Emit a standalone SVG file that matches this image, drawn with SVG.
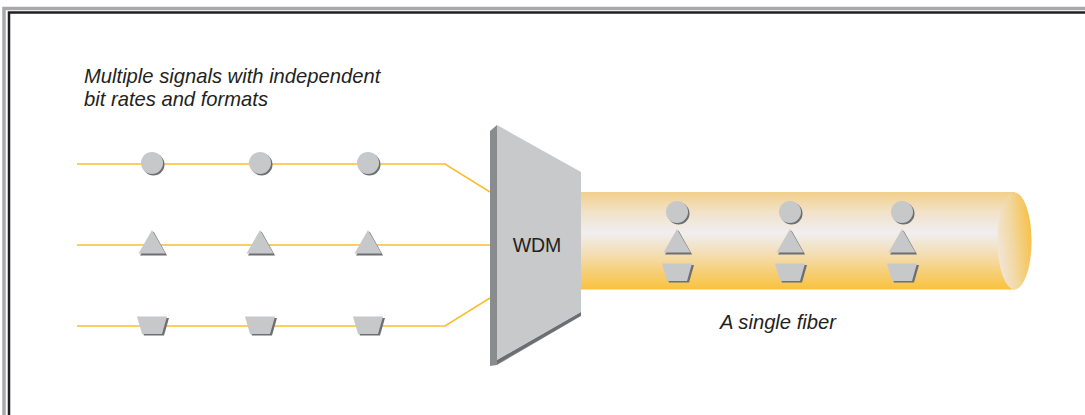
<svg xmlns="http://www.w3.org/2000/svg" width="1085" height="415" viewBox="0 0 1085 415">
<style>
.sig{fill:none;stroke:#F9BE2C;stroke-width:1.5}
.shape{fill:#C7C8CA}
.shd{fill:#6D6E71}
.lbl{font-family:"Liberation Sans",Arial,sans-serif;font-style:italic;font-size:20.2px;fill:#231F20}
</style>
<defs>
<linearGradient id="fib" x1="0" y1="0" x2="0" y2="1">
<stop offset="0" stop-color="#F2D08C"/>
<stop offset="0.22" stop-color="#F1E3CB"/>
<stop offset="0.42" stop-color="#F0EEF0"/>
<stop offset="0.62" stop-color="#F3DFB8"/>
<stop offset="1" stop-color="#F9C23D"/>
</linearGradient>
<linearGradient id="cap" x1="0" y1="0.6" x2="1" y2="0.3">
<stop offset="0" stop-color="#F1E6D8"/>
<stop offset="0.45" stop-color="#F2D79F"/>
<stop offset="1" stop-color="#F8BF44"/>
</linearGradient>
<g id="circ"><circle cx="1.5" cy="1.5" r="11" class="shd"/><circle cx="0" cy="0" r="11" class="shape"/></g>
<g id="tri"><polygon points="1.5,-10.5 15,13.5 -12,13.5" class="shd"/><polygon points="0,-12 13.5,11.5 -13.5,11.5" class="shape"/></g>
<g id="trap"><polygon points="-13.5,-7 17,-7 12,10.5 -8,10.5" class="shd"/><polygon points="-15,-8.5 15,-8.5 10,9 -10,9" class="shape"/></g>
</defs>
<rect x="4" y="8.5" width="1110" height="430" fill="none" stroke="#A7A9AC" stroke-width="3.5"/>
<rect x="9" y="12.5" width="1100" height="420" fill="none" stroke="#231F20" stroke-width="2.5"/>
<g id="label-top">
<text class="lbl" x="84" y="83">Multiple signals with independent</text>
<text class="lbl" x="84" y="106">bit rates and formats</text>
</g>
<g id="connectors">
<polyline class="sig" points="77,164 445,164 490,192"/>
<polyline class="sig" points="77,245 490,245"/>
<polyline class="sig" points="77,326 445,326 490,298"/>
</g>
<g id="signals-in">
<use href="#circ" x="152" y="163"/>
<use href="#circ" x="260" y="163"/>
<use href="#circ" x="368" y="163"/>
<use href="#tri" x="152" y="242"/>
<use href="#tri" x="260" y="242"/>
<use href="#tri" x="368" y="242"/>
<use href="#trap" x="152" y="325"/>
<use href="#trap" x="260" y="325"/>
<use href="#trap" x="368" y="325"/>
</g>
<g id="fiber">
<rect x="578" y="192" width="437" height="97.5" fill="url(#fib)"/>
<ellipse cx="1014.5" cy="241" rx="17" ry="48.5" fill="url(#cap)"/>
</g>
<g id="wdm">
<polygon points="490,131 497,125 497,360 581,312 581,316 497,365 490,366" fill="#8A8B8D"/>
<polygon points="497,360 581,312 581,315.5 497,364" fill="#6D6E71"/>
<polygon points="497,125 581,172 581,312 497,360" fill="#C8C9CB"/>
<text x="537" y="252" text-anchor="middle" style="font-family:'Liberation Sans',Arial,sans-serif;font-size:19.5px;fill:#231F20">WDM</text>
</g>
<g id="signals-fiber">
<use href="#circ" x="677" y="212"/>
<use href="#circ" x="790" y="212"/>
<use href="#circ" x="902" y="212"/>
<use href="#tri" x="677" y="241"/>
<use href="#tri" x="790" y="241"/>
<use href="#tri" x="902" y="241"/>
<use href="#trap" x="677" y="272"/>
<use href="#trap" x="790" y="272"/>
<use href="#trap" x="902" y="272"/>
</g>
<g id="label-fiber">
<text class="lbl" x="720" y="329">A single fiber</text>
</g>
</svg>
